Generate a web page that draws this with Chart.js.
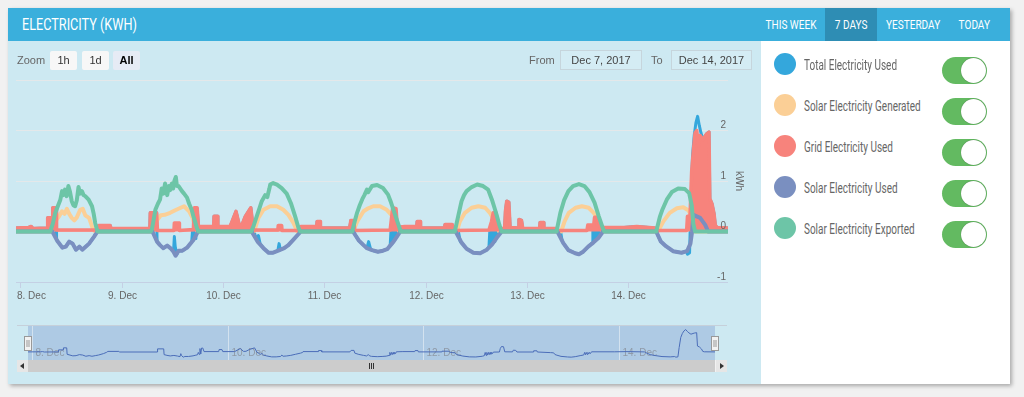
<!DOCTYPE html>
<html><head><meta charset="utf-8">
<script src="https://cdn.jsdelivr.net/npm/chart.js@4.4.0/dist/chart.umd.min.js"></script>
<style>
html,body{margin:0;padding:0;}
body{width:1024px;height:397px;background:#f1f1f1;position:relative;overflow:hidden;font-family:"Liberation Sans",Arial,sans-serif;}
.abs{position:absolute;}
.narrow{font-family:Roboto,"Liberation Sans",Arial,sans-serif;display:inline-block;white-space:nowrap;}
#card{left:8px;top:8px;width:1002px;height:376px;background:#fff;box-shadow:2px 2px 4px rgba(0,0,0,0.3);}
#header{left:8px;top:8px;width:1002px;height:33px;background:#3aafdc;}
#leftpanel{left:8px;top:41px;width:753px;height:343px;background:#cde9f2;}
#title{left:22px;top:8px;height:33px;line-height:34px;color:#fff;font-size:16px;transform-origin:0 50%;}
.tabbg{top:8px;height:33px;background:#2e8db4;}
.tab{top:8px;height:33px;line-height:34px;color:#fff;font-size:13px;transform-origin:50% 50%;}
.lbl{font-size:11px;color:#666;line-height:19px;height:19px;white-space:nowrap;}
.btn{height:19px;line-height:19px;font-size:11px;color:#333;background:#f7f7f7;text-align:center;border-radius:2px;}
.date{height:18px;line-height:18px;font-size:11px;color:#444;border:1px solid #c6d5dc;text-align:center;background:rgba(255,255,255,0.15);}
canvas{position:absolute;}
.dot{width:22px;height:22px;border-radius:50%;}
.ltext{font-size:14px;color:#666;line-height:16px;transform-origin:0 50%;}
.tog{width:45px;height:27px;border-radius:14px;background:#63ba61;}
.knob{position:absolute;left:19px;top:1px;width:25px;height:25px;border-radius:50%;background:#fff;box-shadow:0 0 1px rgba(0,0,0,0.5);}
#sbar{left:17px;top:360px;width:710px;height:12px;background:#f2f2f2;}
#sthumb{left:28px;top:360px;width:687px;height:12px;background:#cccccc;}
.sbtn{top:360px;width:11px;height:12px;background:#e6e6e6;}
.grip{top:363px;width:1px;height:6px;background:#333;}
</style></head>
<body>
<div id="card" class="abs"></div>
<div id="header" class="abs"></div>
<div id="leftpanel" class="abs"></div>
<div id="title" class="abs narrow">ELECTRICITY (KWH)</div>
<div class="abs tabbg" style="left:825px;width:52px;"></div>
<div class="abs tab narrow" data-cx="790.5">THIS WEEK</div>
<div class="abs tab narrow" data-cx="851">7 DAYS</div>
<div class="abs tab narrow" data-cx="913">YESTERDAY</div>
<div class="abs tab narrow" data-cx="974">TODAY</div>

<canvas id="main" width="760" height="305" style="left:0;top:0;width:760px;height:305px;"></canvas>
<canvas id="nav" width="760" height="80" style="left:0;top:300px;width:760px;height:80px;"></canvas>

<div class="abs lbl" style="left:17px;top:51px;">Zoom</div>
<div class="abs btn" style="left:50px;top:51px;width:27px;">1h</div>
<div class="abs btn" style="left:82px;top:51px;width:27px;">1d</div>
<div class="abs btn" style="left:113px;top:51px;width:27px;background:#e6ebf5;color:#000;font-weight:bold;">All</div>
<div class="abs lbl" style="left:529px;top:51px;">From</div>
<div class="abs date" style="left:560px;top:50px;width:80px;">Dec 7, 2017</div>
<div class="abs lbl" style="left:651px;top:51px;">To</div>
<div class="abs date" style="left:671px;top:50px;width:79px;">Dec 14, 2017</div>

<div id="sbar" class="abs"></div>
<div id="sthumb" class="abs"></div>
<div class="abs sbtn" style="left:17px;"><div class="abs" style="left:3px;top:3px;width:0;height:0;border-top:3px solid transparent;border-bottom:3px solid transparent;border-right:4px solid #333;"></div></div>
<div class="abs sbtn" style="left:716px;"><div class="abs" style="left:4px;top:3px;width:0;height:0;border-top:3px solid transparent;border-bottom:3px solid transparent;border-left:4px solid #333;"></div></div>
<div class="abs grip" style="left:369px;"></div>
<div class="abs grip" style="left:371px;"></div>
<div class="abs grip" style="left:373px;"></div>

<div id="legend"></div>

<script>
// ---------- data (hours from 8 Dec 00:00, kWh) ----------
const seriesNames = ['Total Electricity Used','Solar Electricity Generated','Grid Electricity Used','Solar Electricity Used','Solar Electricity Exported'];
const seriesColors = ['#34a7dc','#fbcf96','#f7837c','#7a8fc0','#6dc5a7'];
const dayLabels = ['8. Dec','9. Dec','10. Dec','11. Dec','12. Dec','13. Dec','14. Dec'];
const dayHours = [0,24,48,72,96,120,144];
const navLabels = ['8. Dec','10. Dec','12. Dec','14. Dec'];
const navHours = [0,48,96,144];
const yTickValues = [-1,0,1,2];
const yTickLabels = ['-1','0','1','2'];
const axisTitle = 'kWh';

const exported = [[-1,0],[7.1,0],[7.7,0.15],[8.3,0.37],[9.5,0.63],[9.9,0.8],[10.2,0.72],[10.6,0.83],[11.0,0.7],[11.4,0.9],[11.8,0.78],[12.2,0.6],[12.6,0.52],[13.0,0.5],[13.4,0.62],[13.8,0.88],[14.2,0.75],[14.6,0.8],[15.0,0.72],[15.4,0.7],[16.2,0.63],[17.0,0.5],[17.4,0.35],[17.75,0.17],[18.3,0],
[30.9,0],[31.2,0.05],[32.0,0.43],[32.6,0.55],[33.1,0.63],[33.5,0.85],[33.9,0.75],[34.3,0.95],[34.8,0.72],[35.2,0.9],[35.5,0.82],[35.9,0.95],[36.2,0.85],[36.5,1.0],[36.85,1.08],[37.1,0.9],[37.5,0.9],[38.3,0.8],[38.8,0.75],[39.5,0.67],[40.0,0.55],[40.6,0.43],[41.0,0.3],[41.4,0.2],[41.8,0.08],[42.2,0],
[54.7,0],[55.3,0.12],[56.0,0.3],[56.6,0.45],[57.2,0.6],[58.0,0.72],[58.5,0.68],[59.0,0.85],[59.2,0.93],[59.9,0.96],[60.8,0.93],[61.9,0.86],[63.1,0.75],[64.1,0.56],[65.1,0.3],[65.9,0.07],[66.3,0],
[78.6,0],[79.2,0.2],[79.8,0.38],[80.4,0.52],[81.0,0.64],[81.5,0.72],[82.1,0.83],[82.4,0.78],[83.3,0.9],[84.5,0.92],[85.9,0.86],[87.1,0.73],[87.7,0.6],[88.3,0.45],[89.5,0.15],[90.1,0],
[102.9,0],[103.7,0.3],[104.5,0.6],[105.1,0.72],[105.7,0.8],[106.9,0.88],[108.2,0.93],[109.6,0.9],[110.8,0.83],[111.7,0.63],[112.3,0.47],[112.8,0.33],[113.5,0.12],[114.0,0],
[127.0,0],[127.9,0.37],[128.8,0.62],[129.8,0.8],[130.9,0.9],[132.3,0.94],[133.6,0.9],[134.8,0.78],[136.0,0.57],[137.0,0.3],[137.9,0.08],[138.3,0],
[150.6,0],[151.5,0.3],[152.0,0.42],[153.1,0.63],[154.3,0.78],[155.8,0.85],[157.4,0.84],[158.4,0.76],[159.0,0.52],[159.4,0.15],[159.8,0],[167.6,0]];

const generated = [[-1,0],[7.3,0],[8.3,0.2],[9.2,0.3],[9.9,0.4],[10.5,0.35],[11.05,0.45],[11.6,0.35],[12.2,0.27],[12.8,0.22],[13.4,0.28],[14.2,0.43],[14.8,0.45],[15.4,0.32],[16.3,0.27],[17.0,0.1],[17.7,0],
[31.5,0],[32.2,0.2],[33.3,0.32],[34.2,0.33],[35.5,0.37],[36.7,0.42],[38.0,0.47],[38.8,0.5],[40.0,0.4],[40.8,0.27],[41.4,0.12],[41.9,0],
[55.4,0],[56.4,0.27],[57.6,0.43],[59.2,0.5],[60.8,0.5],[62.3,0.43],[63.5,0.33],[64.7,0.17],[65.6,0],
[78.8,0],[79.8,0.2],[81.3,0.4],[82.4,0.46],[83.6,0.5],[85.2,0.5],[86.8,0.43],[88.0,0.32],[89.2,0.13],[89.7,0],
[103.4,0],[104.1,0.2],[105.3,0.37],[106.9,0.47],[108.5,0.5],[110.1,0.47],[111.2,0.37],[112.4,0.2],[113.4,0],
[128.1,0],[128.9,0.2],[129.9,0.37],[131.5,0.47],[133.0,0.5],[134.6,0.47],[135.8,0.37],[137.0,0.2],[137.8,0],
[151.0,0],[152.3,0.2],[153.8,0.37],[155.5,0.46],[157.0,0.48],[158.2,0.42],[159.0,0.3],[159.2,0],[167.6,0]];

const solarUsed = [[-1,0],[7.6,0],[8.8,-0.19],[10.0,-0.32],[10.8,-0.3],[11.6,-0.2],[12.4,-0.24],[13.2,-0.36],[14.0,-0.3],[14.7,-0.36],[15.5,-0.3],[16.3,-0.24],[17.5,-0.1],[18.3,0],
[31.3,0],[32.4,-0.2],[33.1,-0.27],[33.9,-0.33],[34.8,-0.28],[35.7,-0.34],[36.3,-0.4],[36.8,-0.48],[37.5,-0.38],[38.4,-0.38],[39.5,-0.32],[40.2,-0.25],[41.0,-0.17],[42.1,0],
[54.8,0],[56.2,-0.2],[57.6,-0.33],[58.8,-0.42],[59.9,-0.42],[61.1,-0.38],[62.5,-0.33],[63.5,-0.27],[64.7,-0.16],[65.9,-0.05],[66.4,0],
[78.8,0],[80.2,-0.18],[81.3,-0.27],[82.1,-0.33],[83.3,-0.37],[84.7,-0.4],[85.9,-0.38],[86.9,-0.35],[87.6,-0.28],[88.4,-0.2],[89.2,-0.1],[90.0,0],
[103.1,0],[104.5,-0.22],[105.7,-0.34],[107.3,-0.42],[108.9,-0.43],[110.5,-0.36],[111.7,-0.26],[112.8,-0.13],[114.0,0],
[127.2,0],[128.6,-0.23],[129.8,-0.37],[131.4,-0.43],[132.3,-0.45],[133.3,-0.4],[134.5,-0.3],[135.7,-0.22],[136.9,-0.13],[138.0,0],
[150.6,0],[151.7,-0.2],[152.9,-0.29],[154.6,-0.39],[156.6,-0.42],[157.9,-0.39],[158.7,-0.24],[159.1,0],[159.4,0.33],[161.0,0.27],[162.2,0.13],[162.9,0],[167.6,0]];

const gridUsed = [[-1,0.07],[2.0,0.08],[2.6,0.1],[3.0,0.06],[6.4,0.07],[6.5,0.27],[7.6,0.27],[7.7,0.47],[8.5,0.47],[8.6,0.03],[18.3,0.03],[18.6,0.12],[21.3,0.12],[21.5,0.06],[30.7,0.06],[30.8,0.37],[32.3,0.37],[32.5,0.02],[36.4,0.02],[36.5,0.17],[37.6,0.17],[37.7,0.02],[41.0,0.04],[41.2,0.47],[41.9,0.47],[42.2,0.1],[45.8,0.1],[45.9,0.3],[46.6,0.3],[46.8,0.1],[49.7,0.1],[51.1,0.4],[51.9,0.12],[52.5,0.13],[53.3,0.3],[54.6,0.47],[55.2,0.03],[61.0,0.03],[61.1,0.12],[61.9,0.12],[62.0,0.02],[66.3,0.02],[66.5,0.1],[70.2,0.1],[70.3,0.2],[71.0,0.2],[71.1,0.07],[78.0,0.07],[78.3,0.22],[79.0,0.22],[79.2,0.02],[87.6,0.03],[88.2,0.47],[89.0,0.45],[89.3,0.08],[91.0,0.1],[93.9,0.1],[94.0,0.2],[94.7,0.2],[94.8,0.07],[100.5,0.07],[100.6,0.14],[102.3,0.14],[102.5,0.02],[111.0,0.03],[111.6,0.2],[112.0,0.37],[112.7,0.37],[113.0,0.06],[114.7,0.06],[114.9,0.4],[115.2,0.6],[115.7,0.58],[116.0,0.08],[117.9,0.07],[118.1,0.24],[118.7,0.22],[119.0,0.06],[123.0,0.06],[123.1,0.18],[123.9,0.18],[124.0,0.06],[127.0,0.06],[127.3,0.02],[134.2,0.02],[134.4,0.13],[135.8,0.13],[136.0,0.28],[137.0,0.28],[137.3,0.08],[143.0,0.08],[146.0,0.1],[150.3,0.07],[150.6,0.02],[157.8,0.02],[158.0,0.3],[158.6,0.3],[159.0,1.2],[159.4,1.6],[159.8,1.95],[160.2,2.0],[160.6,1.7],[161.0,1.9],[161.7,1.82],[162.5,1.93],[163.1,1.97],[163.3,0.65],[163.8,0.55],[164.3,0.35],[164.6,0.12],[165.0,0.08],[167.6,0.07]];

const totalUsed = [[-1,0.07],[2.0,0.08],[2.6,0.1],[3.0,0.06],[6.4,0.07],[6.5,0.27],[7.6,0.27],[7.7,0.47],[8.5,0.47],[8.6,-0.16],[8.8,-0.19],[10.0,-0.32],[10.8,-0.3],[11.6,-0.2],[12.4,-0.24],[13.2,-0.36],[14.0,-0.3],[14.7,-0.36],[15.5,-0.3],[16.3,-0.24],[17.5,-0.1],[18.3,0.03],[18.6,0.12],[21.3,0.12],[21.5,0.06],
[30.7,0.06],[30.8,0.37],[32.3,0.37],[32.4,-0.2],[33.1,-0.27],[33.9,-0.33],[34.8,-0.28],[35.7,-0.34],[36.3,-0.4],[36.5,-0.1],[36.7,-0.3],[37.1,-0.45],[37.5,-0.38],[38.4,-0.38],[39.5,-0.32],[40.2,-0.25],[40.6,-0.21],[40.8,0.02],[41.0,-0.17],[41.2,0.4],[41.4,-0.14],[41.6,0.45],[41.9,0.45],[42.2,0.1],[45.8,0.1],[45.9,0.3],[46.6,0.3],[46.8,0.1],[49.7,0.1],[51.1,0.4],[51.9,0.12],[52.5,0.13],[53.3,0.3],[54.6,0.47],[55.2,0.03],
[55.5,-0.04],[56.0,-0.17],[56.4,-0.08],[56.8,-0.24],[57.6,-0.33],[58.8,-0.42],[59.9,-0.42],[61.0,-0.38],[61.3,-0.24],[61.6,-0.36],[62.5,-0.33],[63.5,-0.27],[64.7,-0.16],[65.9,-0.05],[66.4,0.02],[66.5,0.1],[70.2,0.1],[70.3,0.2],[71.0,0.2],[71.1,0.07],[78.0,0.07],[78.3,0.22],[79.0,0.22],
[79.2,-0.05],[80.2,-0.18],[81.3,-0.27],[82.1,-0.33],[82.5,-0.2],[82.9,-0.33],[83.3,-0.37],[84.7,-0.4],[85.9,-0.38],[86.9,-0.35],[87.6,-0.28],[87.8,0.02],[88.0,-0.25],[88.2,0.02],[88.4,-0.2],[88.6,0.02],[88.8,-0.15],[89.0,0.02],[89.2,-0.1],[89.4,0.08],[91.0,0.1],[93.9,0.1],[94.0,0.2],[94.7,0.2],[94.8,0.07],[100.5,0.07],[100.6,0.14],[102.3,0.14],[102.5,0.05],
[103.1,0],[103.8,-0.02],[104.2,-0.2],[104.5,-0.22],[105.7,-0.34],[107.3,-0.42],[108.9,-0.43],[110.5,-0.36],[111.0,-0.3],[111.2,0.02],[111.4,-0.27],[111.6,0.02],[111.8,-0.24],[112.0,0.02],[112.2,-0.2],[112.4,0.02],[112.6,-0.16],[112.8,0.02],[113.0,-0.1],[113.2,0.05],[114.7,0.06],[114.9,0.4],[115.2,0.6],[115.7,0.58],[116.0,0.08],[117.9,0.07],[118.1,0.24],[118.7,0.22],[119.0,0.06],[123.0,0.06],[123.1,0.18],[123.9,0.18],[124.0,0.06],
[127.2,0],[128.0,-0.02],[128.3,-0.18],[128.6,-0.23],[129.8,-0.37],[131.4,-0.43],[132.3,-0.45],[133.3,-0.4],[134.5,-0.3],[135.4,-0.23],[135.6,0.02],[135.8,-0.21],[136.0,0.02],[136.2,-0.18],[136.4,0.02],[136.6,-0.14],[136.8,0.02],[137.0,-0.1],[137.3,0.08],[143.0,0.08],[146.0,0.1],[150.3,0.07],
[150.6,0],[151.7,-0.2],[152.9,-0.29],[154.6,-0.39],[156.6,-0.42],[157.7,-0.39],[158.0,-0.45],[158.5,-0.42],[158.8,0.5],[159.2,1.5],[159.6,1.9],[160.0,2.15],[160.4,2.28],[160.8,2.1],[161.2,1.95],[161.7,1.82],[162.5,1.93],[163.1,1.97],[163.3,0.65],[163.8,0.55],[164.3,0.35],[164.6,0.12],[165.0,0.08],[167.6,0.07]];

const xMin = -1, xMax = 167.6;

// ---------- legend ----------
const legend = document.getElementById('legend');
seriesNames.forEach((name, i) => {
  const top = 41 * i;
  legend.insertAdjacentHTML('beforeend',
    `<div class="abs dot" style="left:774px;top:${52.5 + top}px;background:${seriesColors[i]};"></div>` +
    `<div class="abs ltext narrow" style="left:804px;top:${57 + top}px;">${name}</div>` +
    `<div class="abs tog" style="left:942px;top:${57 + top}px;"><div class="knob"></div></div>`);
});

// condense the header / legend texts to the narrow look of the original
function squeeze(el, scale) { el.style.transform = `scaleX(${scale})`; }
const titleEl = document.getElementById('title');
squeeze(titleEl, 115 / titleEl.getBoundingClientRect().width);
const ltexts = document.querySelectorAll('.ltext');
const lScale = 93 / ltexts[0].getBoundingClientRect().width;
ltexts.forEach(el => squeeze(el, lScale));
const tabs = document.querySelectorAll('.tab');
const tScale = 51 / tabs[0].getBoundingClientRect().width;
tabs.forEach(el => {
  const w = el.getBoundingClientRect().width;
  el.style.left = (parseFloat(el.dataset.cx) - w / 2) + 'px';
  squeeze(el, tScale);
});

const toXY = a => a.map(p => ({x: p[0], y: p[1]}));
const lineDs = (label, data, color, order, width, fill) => ({
  label, data: toXY(data), borderColor: color, backgroundColor: color, borderWidth: width,
  pointRadius: 0, tension: 0, order, fill: fill ? 'origin' : false,
  borderJoinStyle: 'round', borderCapStyle: 'round'
});

const mainAxes = {
  id: 'mainAxes',
  afterDraw(chart) {
    const {ctx, chartArea: a, scales: {x, y}} = chart;
    ctx.save();
    ctx.strokeStyle = '#c4d0e4'; ctx.lineWidth = 1;
    ctx.beginPath(); ctx.moveTo(a.left, a.bottom + 0.5); ctx.lineTo(a.right, a.bottom + 0.5); ctx.stroke();
    ctx.font = '10px "Liberation Sans", Arial, sans-serif';
    ctx.fillStyle = '#666'; ctx.textBaseline = 'middle'; ctx.textAlign = 'center';
    dayHours.forEach((h, i) => {
      const px = Math.round(x.getPixelForValue(h)) + 0.5;
      ctx.beginPath(); ctx.moveTo(px, a.bottom); ctx.lineTo(px, a.bottom + 6); ctx.stroke();
      const w = ctx.measureText(dayLabels[i]).width;
      let cx = px;
      if (cx - w / 2 < 17) cx = 17 + w / 2;
      ctx.fillText(dayLabels[i], cx, a.bottom + 14);
    });
    ctx.textAlign = 'right';
    yTickValues.forEach((v, i) => {
      ctx.fillText(yTickLabels[i], a.right - 2, y.getPixelForValue(v) - 5);
    });
    ctx.translate(739, (a.top + a.bottom) / 2);
    ctx.rotate(Math.PI / 2);
    ctx.textAlign = 'center';
    ctx.fillText(axisTitle, 0, 0);
    ctx.restore();
  }
};

new Chart(document.getElementById('main'), {
  type: 'line',
  data: { datasets: [
    lineDs(seriesNames[4], exported, seriesColors[4], 1, 4, false),
    lineDs(seriesNames[3], solarUsed, seriesColors[3], 2, 4, false),
    lineDs(seriesNames[2], gridUsed, seriesColors[2], 3, 3.5, true),
    lineDs(seriesNames[1], generated, seriesColors[1], 4, 4, false),
    lineDs(seriesNames[0], totalUsed, seriesColors[0], 5, 3, false)
  ]},
  options: {
    responsive: false, animation: false, devicePixelRatio: 1,
    layout: { padding: { left: 16, right: 32, top: 80, bottom: 23 } },
    plugins: { legend: { display: false }, tooltip: { enabled: false } },
    scales: {
      x: { type: 'linear', min: xMin, max: xMax, grid: { display: false }, ticks: { display: false }, border: { display: false }, afterFit(s) { s.height = 0; } },
      y: { position: 'right', min: -1, max: 3, ticks: { display: false, stepSize: 1 }, grid: { color: '#e4e8ea', drawTicks: false }, border: { display: false }, afterFit(s) { s.width = 0; } }
    }
  },
  plugins: [mainAxes]
});

const navDeco = {
  id: 'navDeco',
  beforeDatasetsDraw(chart) {
    const {ctx, chartArea: a, scales: {x}} = chart;
    ctx.save();
    ctx.fillStyle = 'rgba(102,133,194,0.3)';
    ctx.fillRect(a.left, a.top, a.right - a.left, a.bottom - a.top);
    ctx.strokeStyle = 'rgba(235,240,245,0.6)'; ctx.lineWidth = 1;
    ctx.font = '10px "Liberation Sans", Arial, sans-serif';
    ctx.fillStyle = '#8f9aa8'; ctx.textBaseline = 'middle'; ctx.textAlign = 'left';
    navHours.forEach((h, i) => {
      const px = Math.round(x.getPixelForValue(h)) + 0.5;
      ctx.beginPath(); ctx.moveTo(px, a.top); ctx.lineTo(px, a.bottom); ctx.stroke();
      ctx.fillText(navLabels[i], px + 3, a.bottom - 7);
    });
    ctx.restore();
  },
  afterDraw(chart) {
    const {ctx, chartArea: a} = chart;
    ctx.save();
    ctx.strokeStyle = '#c6d0da'; ctx.lineWidth = 1;
    ctx.beginPath(); ctx.moveTo(17, a.top - 0.5); ctx.lineTo(727, a.top - 0.5); ctx.stroke();
    [a.left, a.right].forEach(px => {
      const hx = Math.round(px) - 3.5;
      ctx.fillStyle = '#f2f2f2'; ctx.strokeStyle = '#999';
      ctx.fillRect(hx, a.top + 10.5, 7, 14); ctx.strokeRect(hx, a.top + 10.5, 7, 14);
      ctx.beginPath(); ctx.moveTo(hx + 2.5, a.top + 14); ctx.lineTo(hx + 2.5, a.top + 21);
      ctx.moveTo(hx + 4.5, a.top + 14); ctx.lineTo(hx + 4.5, a.top + 21); ctx.stroke();
    });
    ctx.restore();
  }
};

new Chart(document.getElementById('nav'), {
  type: 'line',
  data: { datasets: [{ data: toXY(totalUsed), borderColor: '#4a6cb8', borderWidth: 1, pointRadius: 0, tension: 0, fill: false }] },
  options: {
    responsive: false, animation: false, devicePixelRatio: 1,
    layout: { padding: { left: 28, right: 45, top: 26, bottom: 20 } },
    plugins: { legend: { display: false }, tooltip: { enabled: false } },
    scales: {
      x: { type: 'linear', min: xMin, max: xMax, display: false },
      y: { min: -0.73, max: 2.63, display: false }
    }
  },
  plugins: [navDeco]
});
</script>
</body></html>
